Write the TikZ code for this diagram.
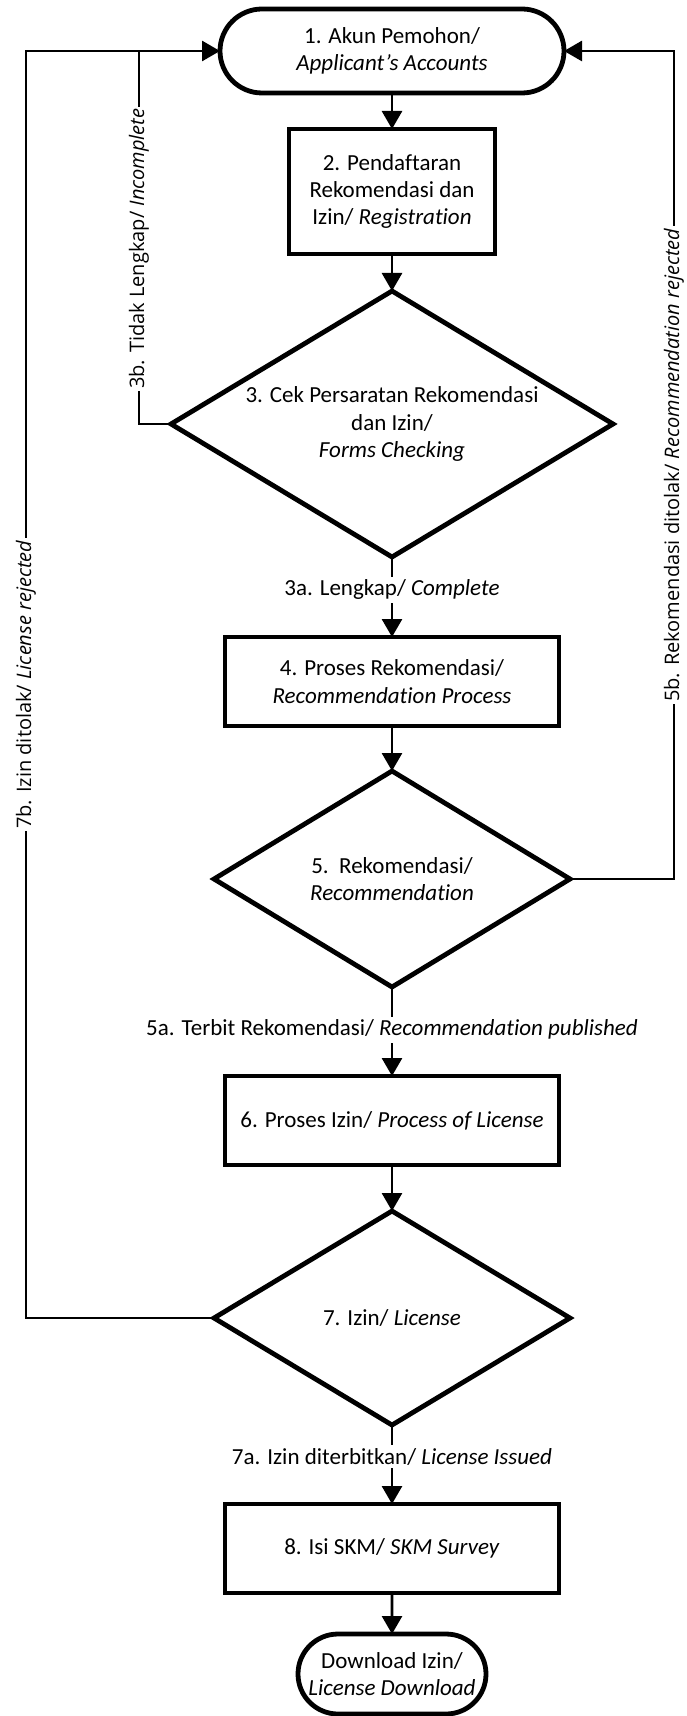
\documentclass[tikz,border=0pt]{standalone}
\usepackage{fontspec}
\setmainfont{Carlito}[Ligatures={TeX,NoCommon}]
\newfontfamily\lblfont{Open Sans}
\usetikzlibrary{positioning, shapes.geometric, shapes.misc, arrows.meta}

\begin{document}
\begin{tikzpicture}[node distance=18pt, >={Triangle[length=9pt,width=10pt]},
        every node/.style={font=\fontsize{11.5}{13.6}\selectfont, align=center},
        box/.style={draw, rectangle, line width=2.4pt, outer sep=0pt, minimum width=167pt, minimum height=44.5pt, inner sep=2pt},
        term/.style={draw, rounded rectangle, line width=2.4pt, outer sep=0pt, inner sep=2pt},
        dec/.style={draw, diamond, line width=2.4pt, outer sep=0pt, inner sep=0pt},
        line/.style={line width=1.4pt},
        lbl/.style={fill=white, inner sep=1.5pt},
        vlbl/.style={fill=white, inner sep=1pt, rotate=90, font=\lblfont\fontsize{10}{12}\selectfont}]
      \useasboundingbox (0,0) rectangle (343pt,-858pt);

      % Start node
      \node[term, minimum width=176pt, minimum height=42pt] (start) at (196pt,-25.5pt) {1. Akun Pemohon/\\\textit{Applicant’s Accounts}};

      % Registration and forms check
      \node[box, below=18pt of start, minimum width=103pt, minimum height=62.5pt] (reg) {2. Pendaftaran\\Rekomendasi dan\\Izin/ \textit{Registration}};
      \draw[->, line] (start) -- (reg);

      \node[dec, below=18.5pt of reg, minimum width=221pt, minimum height=133pt, aspect=1.66] (chk) {3. Cek Persaratan Rekomendasi\\dan Izin/\\\textit{Forms Checking}};
      \draw[->, line] (reg) -- (chk);

      % Recommendation
      \node[box, below=40pt of chk] (proc4) {4. Proses Rekomendasi/\\\textit{Recommendation Process}};
      \draw[->, line] (chk) -- node[lbl, pos=0.41] {3a. Lengkap/ \textit{Complete}} (proc4);

      \node[dec, below=22.5pt of proc4, minimum width=178pt, minimum height=108pt, aspect=1.65] (rec5) {5.\ \ Rekomendasi/\\\textit{Recommendation}};
      \draw[->, line] (proc4) -- (rec5);

      % License
      \node[box, below=44.5pt of rec5] (proc6) {6. Proses Izin/ \textit{Process of License}};
      \draw[->, line] (rec5) -- node[lbl, pos=0.48] {5a. Terbit Rekomendasi/ \textit{Recommendation published}} (proc6);

      \node[dec, below=23pt of proc6, minimum width=178pt, minimum height=107pt, aspect=1.66] (lic7) {7. Izin/ \textit{License}};
      \draw[->, line] (proc6) -- (lic7);

      % Survey and download
      \node[box, below=39.5pt of lic7] (skm8) {8. Isi SKM/ \textit{SKM Survey}};
      \draw[->, line] (lic7) -- node[lbl, pos=0.4] {7a. Izin diterbitkan/ \textit{License Issued}} (skm8);

      \node[term, below=20.5pt of skm8, minimum width=98pt, minimum height=40pt] (finish) {Download Izin/\\\textit{License Download}};
      \draw[->, line] (skm8) -- (finish);

      % Return lines
      \coordinate (lbus) at (13pt,0);
      \coordinate (ibus) at (69.5pt,0);
      \coordinate (rbus) at (337pt,0);

      \draw[->, line] (lic7.west) -- (lic7.west -| lbus) -- node[vlbl, midway] {7b. Izin ditolak/ \textit{License rejected}} (lbus |- start.west) -- (start.west);
      \draw[line] (chk.west) -- (chk.west -| ibus) -- node[vlbl, pos=0.47] {3b. Tidak Lengkap/ \textit{Incomplete}} (ibus |- start.west);
      \draw[->, line] (rec5.east) -- (rec5.east -| rbus) -- node[vlbl, midway] {5b. Rekomendasi ditolak/ \textit{Recommendation rejected}} (rbus |- start.east) -- (start.east);
    \end{tikzpicture}
\end{document}
